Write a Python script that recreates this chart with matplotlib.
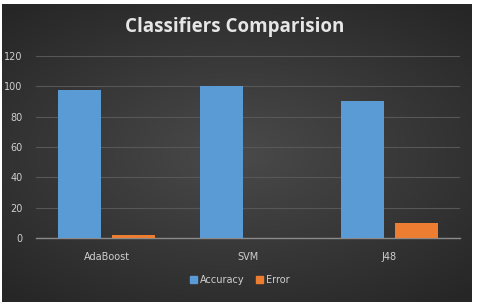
import numpy as np
import matplotlib.pyplot as plt
from matplotlib.patches import Patch

# ==========================
# 数据
# ==========================

classifiers = ["AdaBoost", "SVM", "J48"]
accuracy = [97.5, 100, 90.5]
error = [2, 0, 10]
yticks = [0, 20, 40, 60, 80, 100, 120]

blue = "#5b9bd5"
orange = "#ed7d31"
text_col = "#cfcfcf"

# ==========================
# 画布 + 深色渐变背景
# ==========================

fig = plt.figure(figsize=(4.79, 3.04), dpi=100)
fig.patch.set_facecolor("white")

bg = fig.add_axes([2 / 479, 2 / 304, 470 / 479, 298 / 304])
yy, xx = np.mgrid[-1:1:200j, -1:1:300j]
r = np.sqrt(xx ** 2 * 0.8 + yy ** 2)
shade = 0.29 - 0.14 * np.clip(r / 1.3, 0, 1)
img = np.dstack([shade, shade, shade])
bg.imshow(img, aspect="auto", extent=[0, 1, 0, 1])
bg.set_axis_off()

# ==========================
# 柱状图
# ==========================

ax = fig.add_axes([36 / 479, 66 / 304, 424 / 479, 182 / 304])
ax.patch.set_alpha(0)

x = np.arange(len(classifiers))
w = 0.305
ax.bar(x - 0.19, accuracy, w, color=blue, label="Accuracy", zorder=3)
ax.bar(x + 0.19, error, w, color=orange, label="Error", zorder=3)

ax.set_xlim(-0.5, 2.5)
ax.set_ylim(0, 120)
ax.set_yticks(yticks)
ax.set_xticks(x)
ax.set_xticklabels(classifiers)

ax.grid(axis="y", color="#575757", linewidth=0.8, zorder=0)
for s in ["top", "right", "left"]:
    ax.spines[s].set_visible(False)
ax.spines["bottom"].set_color("#8a8a8a")
ax.spines["bottom"].set_linewidth(1)

ax.tick_params(axis="both", length=0, colors=text_col, labelsize=7)
ax.tick_params(axis="y", pad=9.5)
ax.tick_params(axis="x", pad=10)

fig.text(0.49, 0.91, "Classifiers Comparision", ha="center", va="center",
         fontsize=13.5, fontweight="bold", color="#e6e6e6", family="Open Sans")

handles = [Patch(color=blue), Patch(color=orange)]
fig.legend(handles, ["Accuracy", "Error"], loc="center", bbox_to_anchor=(0.5, 0.078),
           ncol=2, frameon=False, fontsize=7, labelcolor=text_col,
           handlelength=0.7, handleheight=0.7, handletextpad=0.3, columnspacing=1.2)

plt.savefig("out.png", dpi=100)
